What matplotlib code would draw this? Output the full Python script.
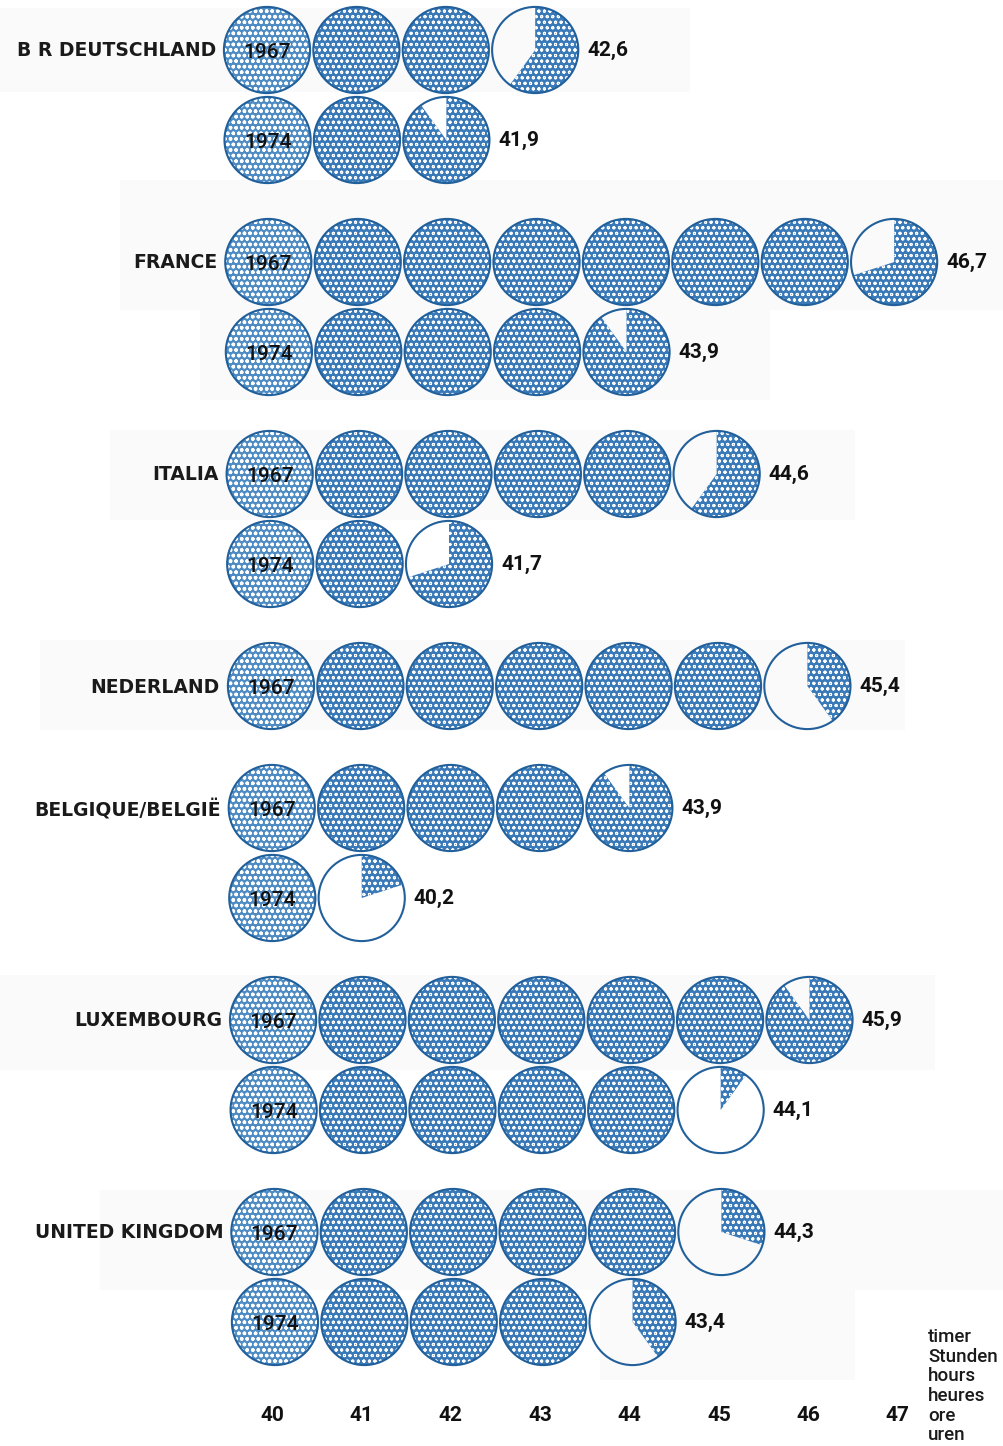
import numpy as np
import matplotlib
matplotlib.use("Agg")
import matplotlib.pyplot as plt
from matplotlib.patches import Wedge, Circle, Rectangle

# Average weekly working hours, 1967 vs 1974
countries = ["B R DEUTSCHLAND", "FRANCE", "ITALIA", "NEDERLAND",
             "BELGIQUE/BELGIË", "LUXEMBOURG", "UNITED KINGDOM"]
years = ["1967", "1974"]
hours_1967 = [42.6, 46.7, 44.6, 45.4, 43.9, 45.9, 44.3]
hours_1974 = [41.9, 43.9, 41.7, None, 40.2, 44.1, 43.4]
value_labels_1967 = ["42,6", "46,7", "44,6", "45,4", "43,9", "45,9", "44,3"]
value_labels_1974 = ["41,9", "43,9", "41,7", None, "40,2", "44,1", "43,4"]
hour_ticks = [40, 41, 42, 43, 44, 45, 46, 47]
unit_labels = ["timer", "Stunden", "hours", "heures", "ore", "uren"]

W, H = 1004, 1446
PX = 89.4            # pixels per hour
X0 = 272             # pixel position of the 40-hour column
R = 0.482            # circle radius in hour units

BLUE = "#3b7ab8"
BLUE_LIGHT = "#4f8cc4"
EDGE = "#22609b"
NUM_FONT = ["Roboto", "DejaVu Sans"]

plt.rcParams["hatch.color"] = "white"

fig = plt.figure(figsize=(W / 100, H / 100), dpi=100)
fig.patch.set_facecolor("white")
ax = fig.add_axes([0, 0, 1, 1])
ax.set_xlim(40 - X0 / PX, 40 + (W - X0) / PX)
ax.set_ylim(H / PX, 0)
ax.axis("off")

# faint panels behind the rows
for (x0, y0, x1, y1) in [(0, 8, 690, 92), (120, 180, 1004, 310), (200, 310, 770, 400),
                         (110, 430, 855, 520), (40, 640, 905, 730), (0, 975, 935, 1070),
                         (100, 1190, 1004, 1290), (600, 1290, 855, 1380)]:
    ax.add_patch(Rectangle((40 + (x0 - X0) / PX, y0 / PX), (x1 - x0) / PX, (y1 - y0) / PX,
                           facecolor="#fafafa", edgecolor="none", zorder=0))

# row layout: 90 px between years, 122 px between countries
rows = []
y = 50
for i, c in enumerate(countries):
    rows.append((y, i, 0))
    if hours_1974[i] is not None:
        y += 90
        rows.append((y, i, 1))
    y += 122


def shift(ypx):
    # slight horizontal drift of the printed columns down the page
    return (-5 + 8 * (ypx - 50) / 1278) / PX


def dotted(patch_cls, *args, first=False):
    plt.rcParams["hatch.linewidth"] = 1.0 if first else 0.7
    return patch_cls(*args, facecolor=BLUE_LIGHT if first else BLUE,
                     edgecolor="white", hatch="ooo", linewidth=0, zorder=2)


for ypx, i, k in rows:
    value = hours_1967[i] if k == 0 else hours_1974[i]
    label = value_labels_1967[i] if k == 0 else value_labels_1974[i]
    cy = ypx / PX
    dx = shift(ypx)
    last_x = None
    for p in hour_ticks:
        frac = min(max(value - (p - 1), 0.0), 1.0)
        if frac <= 0:
            break
        cx = p + dx
        first = p == hour_ticks[0]
        if frac >= 1:
            ax.add_patch(dotted(Circle, (cx, cy), R, first=first))
        else:
            ax.add_patch(dotted(Wedge, (cx, cy), R, 270, 270 + 360 * frac, first=first))
        ax.add_patch(Circle((cx, cy), R, facecolor="none", edgecolor=EDGE,
                            linewidth=1.5, zorder=3))
        last_x = cx
    ax.text(last_x + R + 9 / PX, cy, label, ha="left", va="center",
            fontsize=15, fontweight="bold", family=NUM_FONT, color="#111111", zorder=4)
    ax.text(hour_ticks[0] + dx, cy + 2 / PX, years[k], ha="center", va="center",
            fontsize=15, fontweight="medium", family=NUM_FONT, color="#111111", zorder=4)
    if k == 0:
        ax.text(hour_ticks[0] + dx - R - 8 / PX, cy + 1 / PX, countries[i],
                ha="right", va="center", fontsize=13.5, fontweight="bold",
                family=["DejaVu Sans"], color="#1a1a1a", zorder=4)

# hour scale along the bottom
for p in hour_ticks:
    ax.text(p, 1415 / PX, str(p), ha="center", va="center", fontsize=15,
            fontweight="bold", family=NUM_FONT, color="#111111")

ax.text(40 + (928 - X0) / PX, 1328 / PX, "\n".join(unit_labels), ha="left", va="top",
        fontsize=13.5, family=["Roboto", "DejaVu Sans"], fontweight="medium",
        linespacing=1.12, color="#1a1a1a")

fig.savefig("out.png", dpi=100, facecolor="white")
